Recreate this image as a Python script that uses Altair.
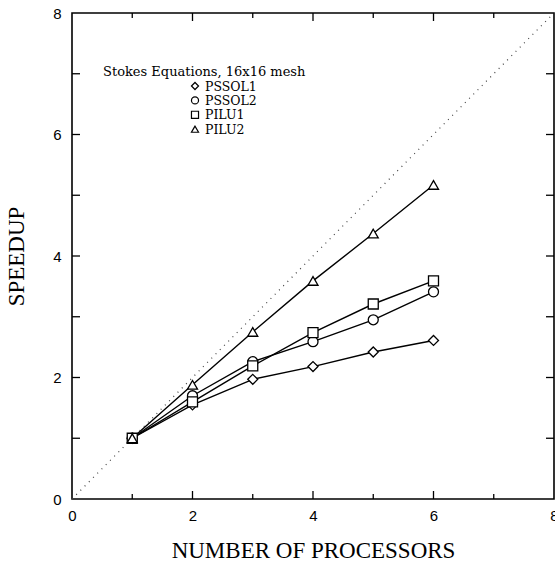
import altair as alt
import pandas as pd

# ---- data ----
procs = [1, 2, 3, 4, 5, 6]
pssol1 = [1.0, 1.55, 1.97, 2.18, 2.42, 2.61]
pssol2 = [1.0, 1.70, 2.26, 2.59, 2.95, 3.41]
pilu1 = [1.0, 1.60, 2.19, 2.74, 3.21, 3.59]
pilu2 = [1.0, 1.88, 2.75, 3.59, 4.37, 5.17]
series_names = ["PSSOL1", "PSSOL2", "PILU1", "PILU2"]
series_shapes = ["diamond", "circle", "square", "triangle-up"]
ideal_x = [0, 8]
ideal_y = [0, 8]
axis_values = [0, 2, 4, 6, 8]
major_ticks = [2, 4, 6]
minor_ticks = [1, 3, 5, 7]
legend_title = "Stokes Equations, 16x16 mesh"

W, H = 482, 486

rows = []
for name, vals in zip(series_names, [pssol1, pssol2, pilu1, pilu2]):
    for p, v in zip(procs, vals):
        rows.append({"procs": p, "speedup": v, "series": name})
df = pd.DataFrame(rows)
ideal = pd.DataFrame({"x": ideal_x, "y": ideal_y})
major = pd.DataFrame({"t": major_ticks})
minor = pd.DataFrame({"t": minor_ticks})

xscale = alt.Scale(domain=[0, 8], nice=False, zero=False)
yscale = alt.Scale(domain=[0, 8], nice=False, zero=False)
shape_scale = alt.Scale(domain=series_names, range=series_shapes)

xaxis = alt.Axis(values=axis_values, format="d", grid=False, ticks=False, domain=False,
                 labelFont="Liberation Sans", labelFontSize=15, labelColor="black",
                 labelPadding=9, labelFlush=False,
                 title="NUMBER OF PROCESSORS", titleFont="Liberation Serif",
                 titleFontSize=23, titleFontWeight="normal", titleColor="black",
                 titlePadding=16)
yaxis = alt.Axis(values=axis_values, format="d", grid=False, ticks=False, domain=False,
                 labelFont="Liberation Sans", labelFontSize=15, labelColor="black",
                 labelPadding=11, labelFlush=False,
                 title="SPEEDUP", titleFont="Liberation Serif",
                 titleFontSize=23, titleFontWeight="normal", titleColor="black",
                 titlePadding=24)

diag = alt.Chart(ideal).mark_line(color="#444", strokeDash=[1, 5], strokeWidth=1.2).encode(
    x=alt.X("x:Q", scale=xscale, axis=xaxis),
    y=alt.Y("y:Q", scale=yscale, axis=yaxis),
)

lines = alt.Chart(df).mark_line(color="black", strokeWidth=1.4).encode(
    x=alt.X("procs:Q", scale=xscale),
    y=alt.Y("speedup:Q", scale=yscale),
    detail="series:N",
)

points = alt.Chart(df).mark_point(filled=False, color="black", fill="white",
                                  strokeWidth=1.3, size=100, opacity=1).encode(
    x=alt.X("procs:Q", scale=xscale),
    y=alt.Y("speedup:Q", scale=yscale),
    shape=alt.Shape("series:N", scale=shape_scale, legend=None),
)

# hand-drawn key (positions in pixels inside the plot area)
key_layers = []
for i, name in enumerate(series_names):
    row = pd.DataFrame({"series": [name]})
    ypix = 73 + 14.4 * i
    key_layers.append(
        alt.Chart(row).mark_point(filled=False, color="black", fill="white",
                                  strokeWidth=1.2, size=50, opacity=1).encode(
            x=alt.value(123), y=alt.value(ypix),
            shape=alt.Shape("series:N", scale=shape_scale, legend=None))
    )
    key_layers.append(
        alt.Chart(row).mark_text(align="left", baseline="middle", font="DejaVu Serif",
                                 fontSize=12.5, color="black").encode(
            x=alt.value(133), y=alt.value(ypix + 0.5), text="series:N")
    )

title_txt = alt.Chart(pd.DataFrame({"t": [legend_title]})).mark_text(
    align="left", baseline="middle", font="DejaVu Serif", fontSize=13, color="black"
).encode(x=alt.value(31), y=alt.value(59), text="t:N")

def ticks(df_t, length, orient):
    base = alt.Chart(df_t).mark_rule(color="black", strokeWidth=1.3)
    if orient == "bottom":
        return base.encode(x=alt.X("t:Q", scale=xscale), y=alt.value(H), y2=alt.value(H - length))
    if orient == "top":
        return base.encode(x=alt.X("t:Q", scale=xscale), y=alt.value(0), y2=alt.value(length))
    if orient == "left":
        return base.encode(y=alt.Y("t:Q", scale=yscale), x=alt.value(0), x2=alt.value(length))
    return base.encode(y=alt.Y("t:Q", scale=yscale), x=alt.value(W), x2=alt.value(W - length))

tick_layers = [
    ticks(major, 8, "bottom"), ticks(minor, 5, "bottom"),
    ticks(major, 8, "top"), ticks(minor, 5, "top"),
    ticks(major, 8, "left"), ticks(minor, 8, "left"),
    ticks(major, 8, "right"), ticks(minor, 8, "right"),
]

chart = alt.layer(diag, lines, points, title_txt, *key_layers, *tick_layers).properties(
    width=W, height=H,
    autosize=alt.AutoSizeParams(type="none"),
    padding={"left": 72, "top": 13, "right": 1, "bottom": 68},
    background="white",
).configure_view(stroke="black", strokeWidth=1.6)

chart.save("out.html", embed_options={"renderer": "svg", "actions": False})
